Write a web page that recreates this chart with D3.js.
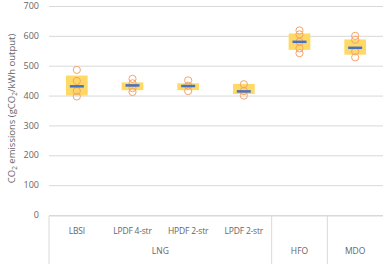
<!DOCTYPE html>
<html>
<head>
<meta charset="utf-8">
<script src="https://cdn.jsdelivr.net/npm/d3@7"></script>
<style>
  body { margin: 0; background: #fff; }
  text { font-family: "Open Sans", "Liberation Sans", sans-serif; fill: #666; }
</style>
</head>
<body>
<svg width="385" height="264"></svg>
<script>
let engines = ["LBSI", "LPDF 4-str", "HPDF 2-str", "LPDF 2-str", "HFO", "MDO"]
let groups = [{name: "LNG", from: 0, to: 3}, {name: "HFO", from: 4, to: 4}, {name: "MDO", from: 5, to: 5}]
let means = [431, 434, 432, 414, 580, 560]
let lows = [400, 418, 418, 405, 553, 537]
let highs = [467, 444, 441, 439, 608, 588]
let points = [
  [486, 449, 415, 397],
  [456, 441, 425, 412],
  [451, 433, 415],
  [438, 415, 400],
  [618, 605, 580, 558, 542],
  [600, 587, 548, 528]
]
let yTicks = [0, 100, 200, 300, 400, 500, 600, 700]

let svg = d3.select("svg")
let margin = {top: 6, right: 2, bottom: 49, left: 49}
let width = svg.attr("width") - margin.left - margin.right
let height = svg.attr("height") - margin.top - margin.bottom

let x = d3.scaleBand().domain(engines).range([0, width]).padding(0)
let y = d3.scaleLinear().domain([0, 700]).range([height, 0])

let g = svg.append("g")
    .attr("transform", "translate(" + margin.left + "," + margin.top + ")")

// gridlines
g.append("g")
    .call(d3.axisLeft(y).tickValues(yTicks).tickSize(-width).tickFormat(""))
    .call(a => a.select(".domain").remove())
    .call(a => a.selectAll("line").attr("stroke", "#d9d9d9"))

// tick labels
g.selectAll(".ylab")
  .data(yTicks)
  .enter().append("text")
    .attr("x", -10)
    .attr("y", d => y(d))
    .attr("dy", "0.35em")
    .attr("text-anchor", "end")
    .attr("font-size", 9)
    .text(d => d)

// y title
svg.append("text")
    .attr("transform", "translate(15," + (margin.top + height / 2 - 2) + ") rotate(-90)")
    .attr("text-anchor", "middle")
    .attr("font-size", 9.5)
    .html('CO<tspan font-size="6.5" dy="2">2</tspan><tspan dy="-2"> emissions (gCO</tspan><tspan font-size="6.5" dy="2">2</tspan><tspan dy="-2">/kWh output)</tspan>')

// category axis box
let axisTop = height + 1
let ax = g.append("g").attr("stroke", "#d9d9d9").attr("fill", "none")
ax.append("line").attr("x1", 0).attr("x2", width).attr("y1", axisTop).attr("y2", axisTop)
let seps = [0, x(engines[4]), x(engines[5])]
ax.selectAll(".sep")
  .data(seps)
  .enter().append("line")
    .attr("x1", d => d).attr("x2", d => d)
    .attr("y1", axisTop).attr("y2", axisTop + 60)

let bw = x.bandwidth()
g.selectAll(".cat")
  .data(engines.slice(0, 4))
  .enter().append("text")
    .attr("x", d => x(d) + bw / 2)
    .attr("y", axisTop + 15)
    .attr("dy", "0.35em")
    .attr("text-anchor", "middle")
    .attr("font-size", 8.5)
    .attr("letter-spacing", "-0.2")
    .text(d => d)

g.selectAll(".grp")
  .data(groups)
  .enter().append("text")
    .attr("x", d => (x(engines[d.from]) + x(engines[d.to]) + bw) / 2)
    .attr("y", axisTop + 35)
    .attr("dy", "0.35em")
    .attr("text-anchor", "middle")
    .attr("font-size", 8.5)
    .text(d => d.name)

// range boxes
let boxW = bw * 0.39
g.selectAll(".box")
  .data(engines)
  .enter().append("rect")
    .attr("x", d => x(d) + bw / 2 - boxW / 2)
    .attr("y", (d, i) => y(highs[i]))
    .attr("width", boxW)
    .attr("height", (d, i) => y(lows[i]) - y(highs[i]))
    .attr("fill", "#ffd966")

// points
engines.forEach((e, i) => {
  g.selectAll(".pt" + i)
    .data(points[i])
    .enter().append("circle")
      .attr("cx", x(e) + bw / 2)
      .attr("cy", d => y(d))
      .attr("r", 3.6)
      .attr("fill", "none")
      .attr("stroke", "#f4a46c")
      .attr("stroke-width", 1)
})

// means
g.selectAll(".mean")
  .data(engines)
  .enter().append("line")
    .attr("x1", d => x(d) + bw / 2 - 7)
    .attr("x2", d => x(d) + bw / 2 + 7)
    .attr("y1", (d, i) => y(means[i]))
    .attr("y2", (d, i) => y(means[i]))
    .attr("stroke", "#4472c4")
    .attr("stroke-width", 2.5)
</script>
</body>
</html>
